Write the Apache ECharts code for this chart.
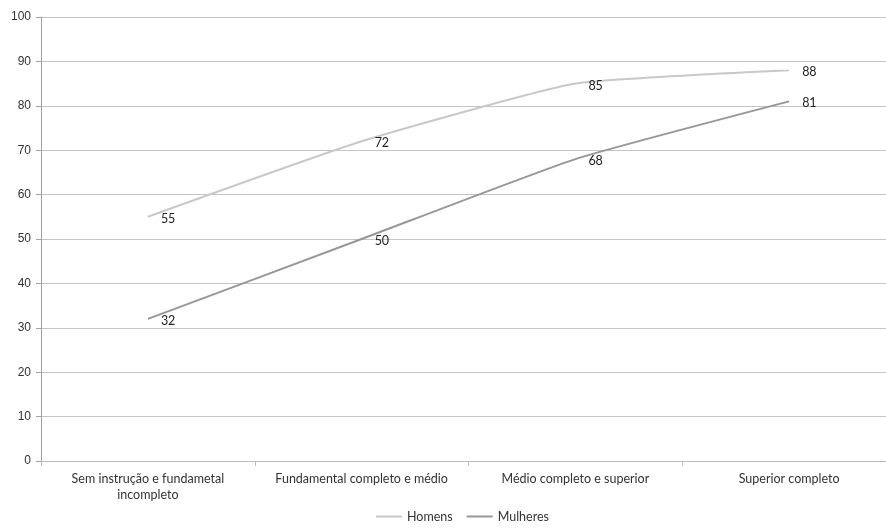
<!DOCTYPE html>
<html>
<head>
<meta charset="utf-8">
<script src="https://cdn.jsdelivr.net/npm/echarts@6/dist/echarts.min.js"></script>
<style>
  html, body { margin: 0; padding: 0; background: #fff; }
  #chart { width: 886px; height: 530px; }
</style>
</head>
<body>
<div id="chart"></div>
<script>
// Education levels on the category axis
const categories = [
  'Sem instrução e fundametal\nincompleto',
  'Fundamental completo e médio',
  'Médio completo e superior',
  'Superior completo'
];
// Percentages per group
const homens = [55, 72, 85, 88];
const mulheres = [32, 50, 68, 81];
const seriesNames = ['Homens', 'Mulheres'];

const textFont = 'Lato, "Open Sans", sans-serif';

const chart = echarts.init(document.getElementById('chart'));

function lineSeries(name, data, color) {
  return {
    name: name,
    type: 'line',
    data: data,
    smooth: 0.15,
    symbol: 'circle',
    symbolSize: 0,
    showSymbol: true,
    lineStyle: { color: color, width: 2 },
    itemStyle: { color: color },
    label: {
      show: true,
      position: 'right',
      distance: 13,
      offset: [0, 2],
      color: '#222',
      fontFamily: textFont,
      fontSize: 12.5
    }
  };
}

chart.setOption({
  animation: false,
  backgroundColor: '#fff',
  grid: { left: 41, top: 17, width: 855, height: 444, outerBoundsMode: 'none', containLabel: false },
  legend: {
    bottom: 2,
    left: 371,
    itemWidth: 26,
    itemHeight: 2,
    itemGap: 14,
    icon: 'rect',
    textStyle: { fontFamily: textFont, fontSize: 12.5, color: '#333' },
    data: seriesNames
  },
  xAxis: {
    type: 'category',
    data: categories,
    boundaryGap: true,
    axisLine: { lineStyle: { color: '#bcbcbc', width: 1 } },
    axisTick: { show: true, length: 5, lineStyle: { color: '#bcbcbc' } },
    axisLabel: {
      interval: 0,
      margin: 10,
      color: '#333',
      fontFamily: textFont,
      fontSize: 12.5,
      lineHeight: 16
    }
  },
  yAxis: {
    type: 'value',
    min: 0,
    max: 100,
    interval: 10,
    axisLine: { show: true, lineStyle: { color: '#a0a0a0' } },
    axisTick: { show: true, length: 5, lineStyle: { color: '#a0a0a0' } },
    axisLabel: {
      margin: 10,
      color: '#333',
      fontFamily: '"Liberation Sans", Arial, sans-serif',
      fontSize: 12
    },
    splitLine: { lineStyle: { color: '#c4c4c4', width: 1 } }
  },
  series: [
    lineSeries(seriesNames[0], homens, '#c8c8c8'),
    lineSeries(seriesNames[1], mulheres, '#979797')
  ]
});
</script>
</body>
</html>
